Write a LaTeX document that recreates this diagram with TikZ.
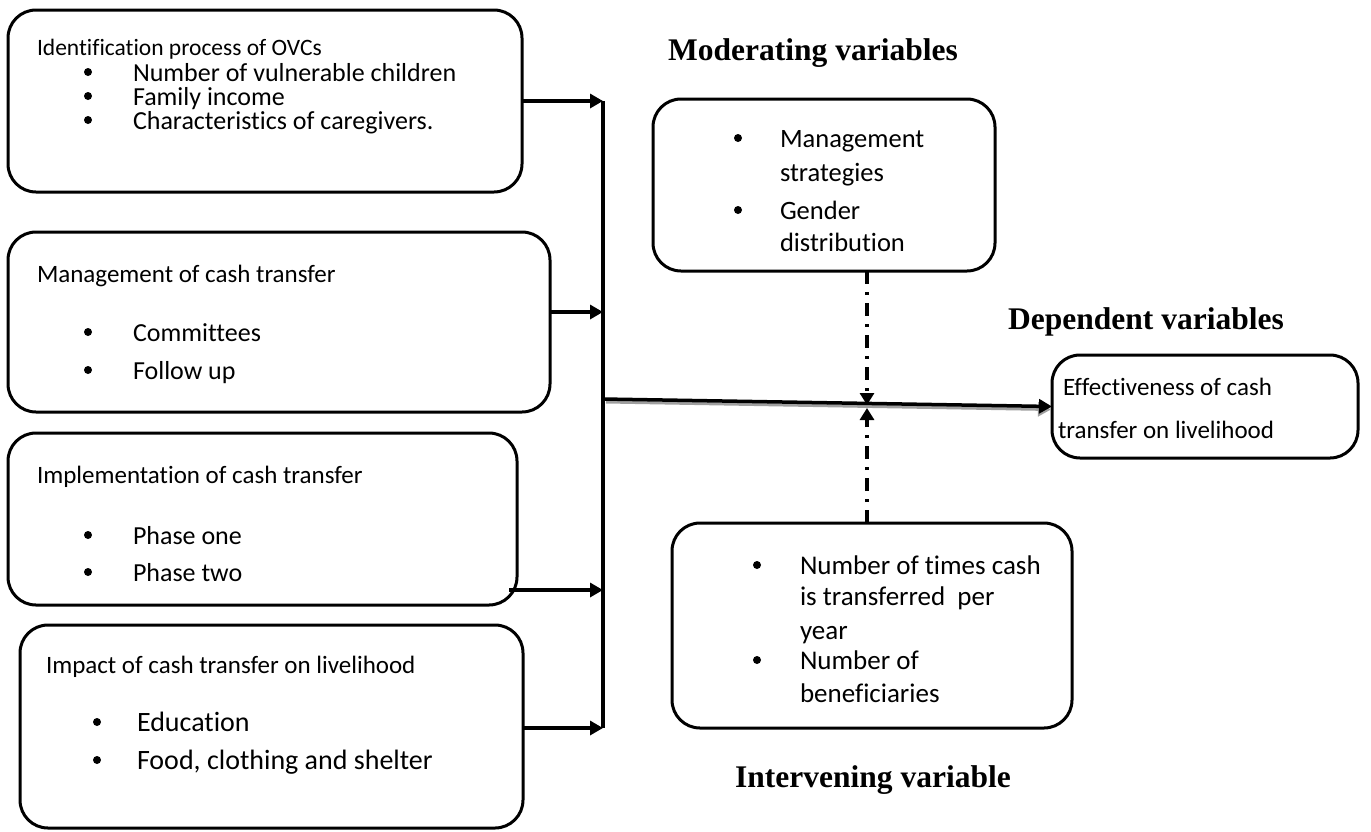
\documentclass[tikz,border=0pt]{standalone}
\usepackage{fontspec}
\setmainfont{Carlito}[Ligatures=NoCommon]
\newfontfamily\hdfont{Liberation Serif}
\usetikzlibrary{arrows.meta}
\begin{document}
\begin{tikzpicture}[x=1pt,y=-1pt,
  box/.style={draw, line width=3pt, rounded corners=28pt, anchor=north west, inner sep=0pt, outer sep=0pt},
  txt/.style={inner sep=0pt, outer sep=0pt, anchor=base west, font=\fontsize{25}{29}\selectfont},
  itm/.style={txt, font=\fontsize{26}{30}\selectfont},
  bigtxt/.style={txt, font=\fontsize{28}{32}\selectfont},
  modtxt/.style={txt, font=\fontsize{26.5}{30}\selectfont},
  inttxt/.style={txt, font=\fontsize{27}{31}\selectfont},
  hd/.style={inner sep=0pt, font=\hdfont\bfseries\fontsize{31.5}{36}\selectfont},
  conn/.style={line width=3.5pt},
  arr/.style={conn, -{Triangle[length=13pt,width=14pt]}},
  shadowarr/.style={line width=3pt, gray!75, -{Triangle[length=13pt,width=14pt]}},
  dd/.style={line width=3.2pt, dash pattern=on 13pt off 8pt on 3pt off 8pt, -{Triangle[length=12pt,width=14pt]}}
]
\useasboundingbox (0,0) rectangle (1371,831);

% boxes
\node[box, minimum width=514pt, minimum height=182pt] (B1) at (8,10) {};
\node[box, minimum width=542pt, minimum height=180pt] (B2) at (8,232) {};
\node[box, minimum width=509pt, minimum height=172pt] (B3) at (8,433) {};
\node[box, minimum width=503pt, minimum height=203pt] (B4) at (20,625) {};
\node[box, minimum width=342pt, minimum height=172pt] (Mod) at (653,99) {};
\node[box, minimum width=306pt, minimum height=103pt] (Dep) at (1052,355) {};
\node[box, minimum width=400pt, minimum height=205pt] (Int) at (672,523) {};

% headings
\node[hd] (Lm) at (813,53) {Moderating variables};
\node[hd] (Ld) at (1146,322) {Dependent variables};
\node[hd] (Li) at (873,780) {Intervening variable};

% box 1
\node[txt, font=\fontsize{23.5}{28}\selectfont] (t1) at (37,55) {Identification process of OVCs};
\node[itm] (t1a) at (133,81) {Number of vulnerable children};
\node[itm] (t1b) at (133,105) {Family income};
\node[itm] (t1c) at (133,129) {Characteristics of caregivers.};
\fill (88,72) circle (4); \fill (88,96) circle (4); \fill (88,120) circle (4);

% box 2
\node[txt] (t2) at (37,282.5) {Management of cash transfer};
\node[itm] (t2a) at (133,341) {Committees};
\node[itm] (t2b) at (133,379) {Follow up};
\fill (88,332) circle (4); \fill (88,370) circle (4);

% box 3
\node[txt] (t3) at (37,483.5) {Implementation of cash transfer};
\node[itm] (t3a) at (133,544) {Phase one};
\node[itm] (t3b) at (133,581) {Phase two};
\fill (88,535) circle (4); \fill (88,572) circle (4);

% box 4
\node[txt] (t4) at (46,673.5) {Impact of cash transfer on livelihood};
\node[bigtxt] (t4a) at (137,731.5) {Education};
\node[bigtxt] (t4b) at (137,769.5) {Food, clothing and shelter};
\fill (97,722) circle (4); \fill (97,760) circle (4);

% moderating
\node[modtxt] (m1) at (780,147) {Management};
\node[modtxt] (m2) at (780,181) {strategies};
\node[modtxt] (m3) at (780,219) {Gender};
\node[modtxt] (m4) at (780,251) {distribution};
\fill (738,138) circle (4); \fill (738,210) circle (4);

% intervening
\node[inttxt] (i1) at (800,574) {Number of times cash};
\node[inttxt] (i2) at (800,605) {is transferred\ \ per};
\node[inttxt] (i3) at (800,639) {year};
\node[inttxt] (i4) at (800,669) {Number of};
\node[inttxt] (i5) at (800,702) {beneficiaries};
\fill (757,565) circle (4); \fill (757,660) circle (4);

% dependent
\node[txt] (d1) at (1063,395.5) {Effectiveness of cash};
\node[txt] (d2) at (1058,438.5) {transfer on livelihood};

% connectors
\coordinate (A1) at (603,101);
\coordinate (A2) at (603,312);
\coordinate (A3) at (603,590);
\coordinate (A4) at (603,728);
\draw[conn] (A1) -- (A4);
\draw[arr] (A1 -| B1.east) -- (A1);
\draw[arr] (A2 -| B2.east) -- (A2);
\draw[arr] ([xshift=-8pt]A3 -| B3.east) -- (A3);
\draw[arr] (A4 -| B4.east) -- (A4);

\coordinate (M0) at (603,399);
\coordinate (X) at (867,403);
\draw[shadowarr] ([shift={(3pt,-3pt)}]M0) -- ([shift={(-1pt,-3pt)}]Dep.west);
\draw[arr] (M0) -- (Dep.west);

\coordinate (Xd) at (867,405);
\coordinate (Xu) at (867,408);
\draw[dd] (X |- Mod.south) -- (Xd);
\draw[dd] (X |- Int.north) -- (Xu);
\end{tikzpicture}
\end{document}
